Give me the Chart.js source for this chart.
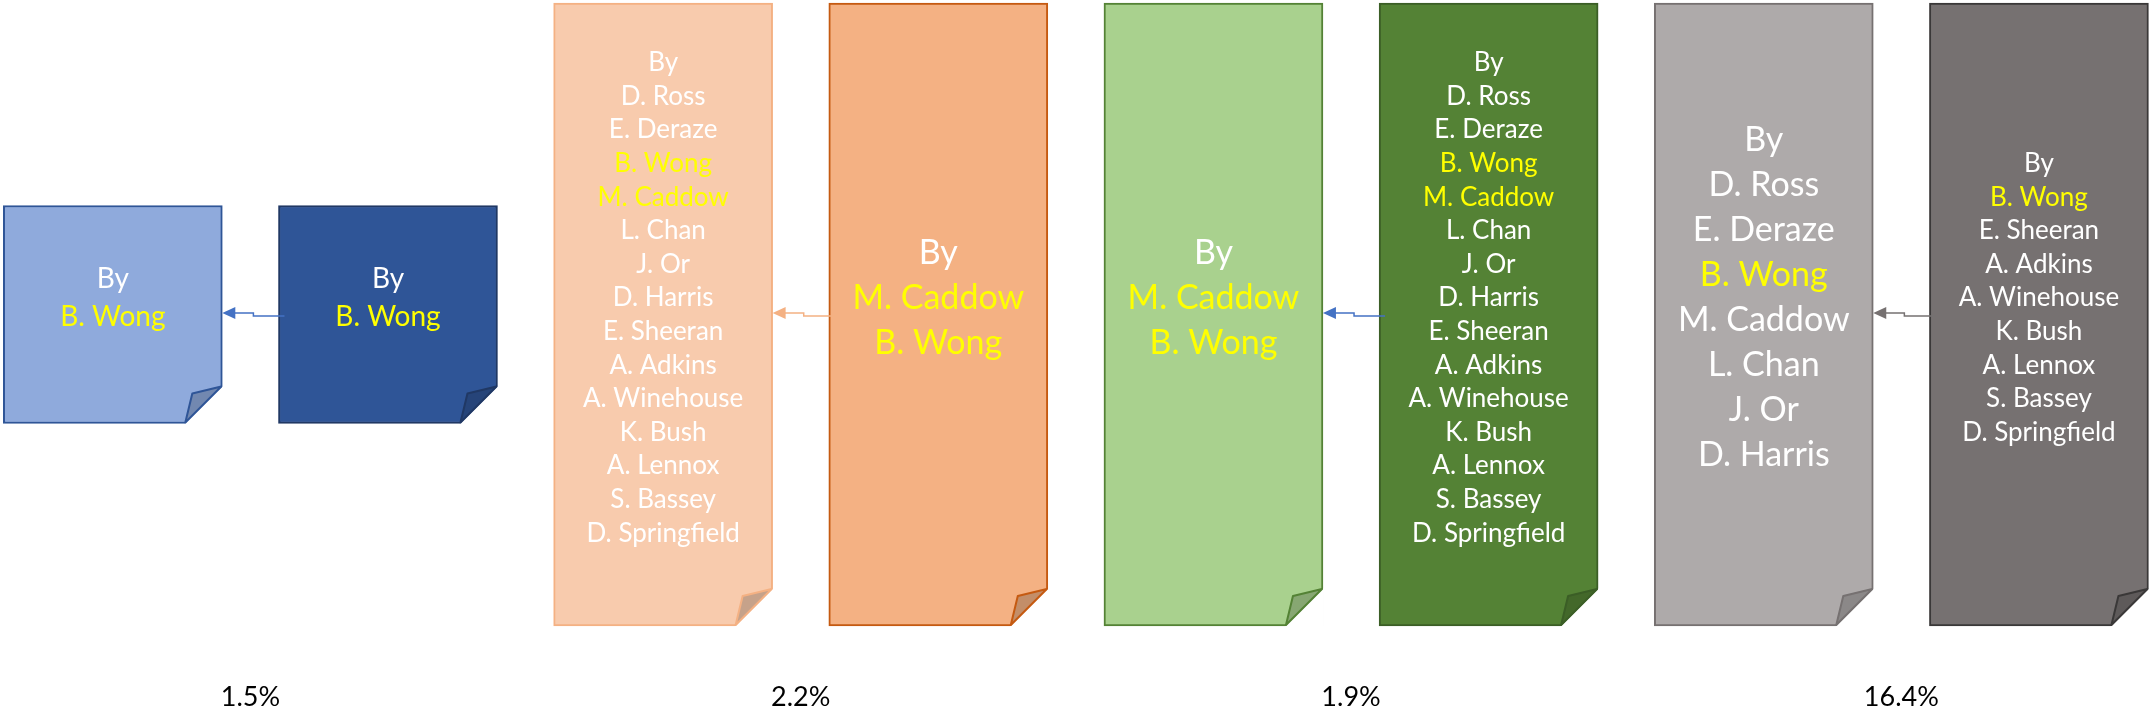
<!DOCTYPE html>
<html>
<head>
<meta charset="utf-8">
<script src="https://cdn.jsdelivr.net/npm/chart.js@4.4.1/dist/chart.umd.min.js"></script>
<style>
  html, body { margin: 0; padding: 0; background: #fff; }
  #wrap { width: 2149px; height: 717px; position: relative; }
</style>
</head>
<body>
<div id="wrap"><canvas id="chart"></canvas></div>
<script>
// Each pair: left = derived paper, right = source paper (arrow goes right -> left)
const docSlots = [0, 1, 2, 3, 4, 5, 6, 7];
const docHalfHeight = [0.35, 0.35, 1, 1, 1, 1, 1, 1];

const longList = ["D. Ross", "E. Deraze", "B. Wong", "M. Caddow", "L. Chan", "J. Or", "D. Harris",
  "E. Sheeran", "A. Adkins", "A. Winehouse", "K. Bush", "A. Lennox", "S. Bassey", "D. Springfield"];
const docAuthors = [
  ["B. Wong"],
  ["B. Wong"],
  longList,
  ["M. Caddow", "B. Wong"],
  ["M. Caddow", "B. Wong"],
  longList,
  ["D. Ross", "E. Deraze", "B. Wong", "M. Caddow", "L. Chan", "J. Or", "D. Harris"],
  ["B. Wong", "E. Sheeran", "A. Adkins", "A. Winehouse", "K. Bush", "A. Lennox", "S. Bassey", "D. Springfield"]
];
const docHighlighted = [
  ["B. Wong"], ["B. Wong"], ["B. Wong", "M. Caddow"], ["M. Caddow", "B. Wong"],
  ["M. Caddow", "B. Wong"], ["B. Wong", "M. Caddow"], ["B. Wong"], ["B. Wong"]
];

const pairCentres = [0.5, 2.5, 4.5, 6.5];
const pairShares = ["1.5%", "2.2%", "1.9%", "16.4%"];

// look
const fills = ['#8FAADC', '#2F5597', '#F8CBAD', '#F4B183', '#A9D18E', '#548235', '#AEAAAA', '#767171'];
const outlines = ['#2F5597', '#203864', '#F4B183', '#C55A11', '#548235', '#3B5E26', '#767171', '#3A3838'];
const textSize = [28, 28, 26, 34, 34, 26, 34, 26];
const lineGap = [38, 38, 33.6, 45, 45, 33.6, 45, 33.6];
const arrowColours = ['#4472C4', '#F4B183', '#4472C4', '#767171'];
const FONT = 'Lato, "Open Sans", sans-serif';

function darker(hex, k) {
  const n = parseInt(hex.slice(1), 16);
  const r = Math.round(((n >> 16) & 255) * k), g = Math.round(((n >> 8) & 255) * k), b = Math.round((n & 255) * k);
  return `rgb(${r},${g},${b})`;
}

const docPlugin = {
  id: 'documents',
  afterDatasetsDraw(chart) {
    const ctx = chart.ctx;
    const bars = chart.getDatasetMeta(0).data;
    const F = 37;
    ctx.save();
    bars.forEach((bar, i) => {
      const { x, y, base, width } = bar.getProps(['x', 'y', 'base', 'width'], true);
      const top = Math.min(y, base), bottom = Math.max(y, base);
      const right = x + width / 2;

      // cut the corner away
      ctx.fillStyle = '#fff';
      ctx.beginPath();
      ctx.moveTo(right - F - 1, bottom + 1);
      ctx.lineTo(right + 1, bottom - F - 1);
      ctx.lineTo(right + 1, bottom + 1);
      ctx.closePath();
      ctx.fill();

      // folded flap
      ctx.strokeStyle = outlines[i];
      ctx.lineJoin = 'round';
      ctx.lineWidth = 2;
      ctx.beginPath();
      ctx.moveTo(right - 1, bottom - F);
      ctx.lineTo(right - 30, bottom - 30);
      ctx.lineTo(right - F, bottom - 1);
      ctx.closePath();
      ctx.fillStyle = darker(fills[i], 0.8);
      ctx.fill();
      ctx.stroke();

      // author text
      const lines = ['By'].concat(docAuthors[i]);
      const gap = lineGap[i];
      const mid = (top + bottom) / 2 - 16.5;
      ctx.font = `${textSize[i]}px ${FONT}`;
      ctx.textAlign = 'center';
      ctx.textBaseline = 'middle';
      lines.forEach((txt, k) => {
        ctx.fillStyle = docHighlighted[i].includes(txt) ? '#FFFF00' : '#FFFFFF';
        ctx.fillText(txt, x, mid - (lines.length - 1) * gap / 2 + k * gap);
      });
    });

    // elbow arrows from source (right) to derived (left)
    pairCentres.forEach((c, p) => {
      const L = bars[2 * p], R = bars[2 * p + 1];
      const lp = L.getProps(['x', 'y', 'base', 'width'], true);
      const rp = R.getProps(['x', 'y', 'base', 'width'], true);
      const headX = lp.x + lp.width / 2;
      const tailX = rp.x - rp.width / 2 + 6;
      const cy = (lp.y + lp.base) / 2;
      const stepX = headX + (tailX - headX) / 2;
      ctx.strokeStyle = arrowColours[p];
      ctx.fillStyle = arrowColours[p];
      ctx.lineWidth = 1.5;
      ctx.lineJoin = 'miter';
      ctx.beginPath();
      ctx.moveTo(tailX, cy + 1.5);
      ctx.lineTo(stepX, cy + 1.5);
      ctx.lineTo(stepX, cy - 1.5);
      ctx.lineTo(headX + 12, cy - 1.5);
      ctx.stroke();
      ctx.beginPath();
      ctx.moveTo(headX, cy - 1.5);
      ctx.lineTo(headX + 13, cy - 7.5);
      ctx.lineTo(headX + 13, cy + 4.5);
      ctx.closePath();
      ctx.fill();
    });
    ctx.restore();
  }
};

new Chart(document.getElementById('chart'), {
  type: 'bar',
  data: {
    datasets: [{
      data: docSlots.map((s, i) => ({ x: s, y: [-docHalfHeight[i], docHalfHeight[i]] })),
      backgroundColor: fills,
      borderColor: outlines,
      borderWidth: 2,
      borderSkipped: false,
      barThickness: 219
    }]
  },
  options: {
    responsive: true,
    maintainAspectRatio: false,
    animation: false,
    layout: { padding: 0 },
    plugins: { legend: { display: false }, tooltip: { enabled: false } },
    scales: {
      x: {
        type: 'linear',
        min: -0.41,
        max: 7.4,
        offset: false,
        grid: { display: false, drawTicks: false, offset: false },
        border: { display: false },
        afterBuildTicks: s => { s.ticks = pairCentres.map(v => ({ value: v })); },
        afterFit: s => { s.height = 37; },
        ticks: {
          padding: 1,
          color: '#000',
          autoSkip: false,
          maxRotation: 0,
          font: { family: FONT, size: 27 },
          callback: (v, i) => pairShares[i]
        }
      },
      y: { display: false, min: -1.1733, max: 1.0096 }
    }
  },
  plugins: [docPlugin]
});
</script>
</body>
</html>
